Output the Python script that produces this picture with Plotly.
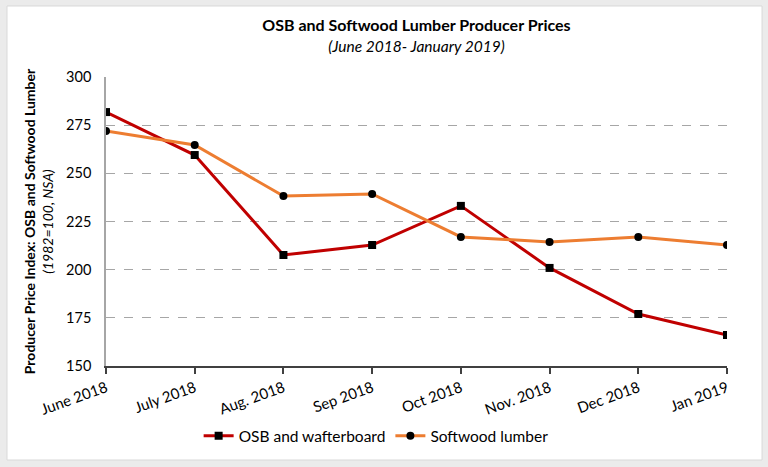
import plotly.graph_objects as go

months = ["June 2018", "July 2018", "Aug. 2018", "Sep 2018", "Oct 2018", "Nov. 2018", "Dec 2018", "Jan 2019"]
osb = [281.8, 259.5, 207.6, 212.8, 233.1, 200.9, 177.0, 166.1]
softwood = [272.0, 264.7, 238.2, 239.3, 217.0, 214.4, 217.0, 212.8]
y_ticks = [150, 175, 200, 225, 250, 275, 300]

FONT = "Lato"

fig = go.Figure()
fig.add_trace(go.Scatter(
    x=months, y=osb, name="OSB and wafterboard", mode="lines+markers",
    line=dict(color="#C00000", width=3),
    marker=dict(symbol="square", size=8, color="black"),
))
fig.add_trace(go.Scatter(
    x=months, y=softwood, name="Softwood lumber", mode="lines+markers",
    line=dict(color="#ED7D31", width=3),
    marker=dict(symbol="circle", size=8, color="black"),
))

fig.update_layout(
    width=768, height=467,
    margin=dict(l=106, r=41, t=77, b=101),
    paper_bgcolor="#EBEBEB",
    plot_bgcolor="#F2F2F2",
    font=dict(family=FONT, size=14, color="#000000"),
    title=dict(
        text="<b>OSB and Softwood Lumber Producer Prices</b><br><span style='font-size:15.5px'><i>(June 2018- January 2019)</i></span>",
        x=0.5, xanchor="center", xref="paper", y=0.933, yanchor="top",
        font=dict(family=FONT, size=16, color="#000000"),
    ),
    showlegend=True,
    legend=dict(
        orientation="h", x=0.435, xanchor="center", xref="paper", y=-0.243, yanchor="middle",
        font=dict(family=FONT, size=15.5, color="#000000"),
        bgcolor="rgba(0,0,0,0)", itemwidth=30, tracegroupgap=0,
    ),
    shapes=[dict(
        type="rect", xref="paper", yref="paper", layer="below",
        x0=-0.1594, x1=1.0564, y0=-0.3253, y1=1.2457,
        fillcolor="white", line=dict(color="#D9D9D9", width=1),
    )],
)

fig.update_xaxes(
    type="category", range=[0, 7],
    showgrid=False, showline=True, linecolor="#404040", linewidth=1.5,
    ticks="outside", ticklen=6, tickcolor="#404040", tickwidth=1.5,
    tickangle=-20, tickfont=dict(family=FONT, size=15),
    zeroline=False,
)
fig.update_yaxes(
    range=[150, 300], tickvals=y_ticks,
    showgrid=True, gridcolor="#A6A6A6", griddash="dash", gridwidth=1,
    showline=True, linecolor="#A6A6A6", linewidth=1.5,
    ticks="", ticklabelstandoff=10, tickfont=dict(family=FONT, size=14.5),
    zeroline=False,
    title=dict(
        text="<b>Producer Price Index: OSB and Softwood Lumber</b><br><i>(1982=100, NSA)</i>",
        font=dict(family=FONT, size=14), standoff=9,
    ),
)

fig.write_html("out.html")
